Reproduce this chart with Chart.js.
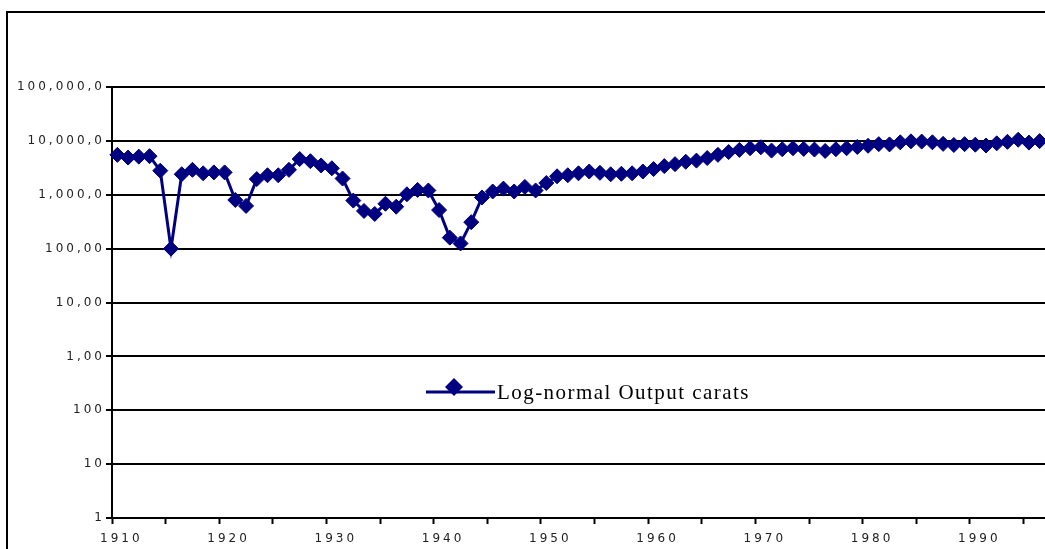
<!DOCTYPE html>
<html>
<head>
<meta charset="utf-8">
<script src="https://cdn.jsdelivr.net/npm/chart.js@4.4.1/dist/chart.umd.min.js"></script>
<style>
  html, body { margin: 0; padding: 0; background: #fff; }
  canvas { display: block; }
</style>
</head>
<body>
<canvas id="chart" width="1045" height="549"></canvas>
<script>
// years on the category axis, one point per year
const years = [];
for (let y = 1910; y <= 1996; y++) years.push(String(y));

// diamond output, carats
const carats = [
  5500000, 4900000, 5100000, 5200000, 2800000, 100000, 2400000, 2900000, 2500000, 2600000, // 1910-19
  2600000, 800000, 620000, 1950000, 2300000, 2300000, 2900000, 4600000, 4200000, 3500000,  // 1920-29
  3100000, 2000000, 780000, 500000, 440000, 680000, 600000, 1020000, 1230000, 1200000,      // 1930-39
  520000, 160000, 125000, 310000, 890000, 1150000, 1300000, 1150000, 1400000, 1200000,      // 1940-49
  1650000, 2200000, 2300000, 2500000, 2700000, 2550000, 2400000, 2450000, 2500000, 2700000, // 1950-59
  3000000, 3400000, 3700000, 4100000, 4300000, 4800000, 5500000, 6200000, 6800000, 7300000, // 1960-69
  7600000, 6600000, 7000000, 7300000, 7100000, 6900000, 6500000, 7000000, 7300000, 7700000, // 1970-79
  8100000, 8700000, 8600000, 9400000, 9800000, 9700000, 9400000, 8800000, 8400000, 8700000, // 1980-89
  8500000, 8200000, 9000000, 9600000, 10500000, 9300000, 9900000                             // 1990-96
];

// y tick labels as printed (truncated in the original), by power of ten
const yTickLabels = ['1', '10', '100', '1,00', '10,00', '100,00', '1,000,0', '10,000,0', '100,000,0'];

const seriesName = 'Log-normal Output carats';
const navy = '#000080';

function diamond(ctx, x, y, r) {
  ctx.beginPath();
  ctx.moveTo(x, y - r);
  ctx.lineTo(x + r, y);
  ctx.lineTo(x, y + r);
  ctx.lineTo(x - r, y);
  ctx.closePath();
  ctx.fill();
}

const frame = {
  id: 'frame',
  beforeDraw(chart) {
    const c = chart.ctx;
    c.save();
    c.fillStyle = '#fff';
    c.fillRect(0, 0, chart.width, chart.height);
    c.strokeStyle = '#000';
    c.lineWidth = 2;
    c.strokeRect(7, 12, chart.width + 10, chart.height + 10);
    c.restore();
    c.letterSpacing = '3px'; // wide tick text
  },
  beforeDatasetsDraw(chart) {
    chart.ctx.letterSpacing = '0px';
  },
  afterDraw(chart) {
    const c = chart.ctx;
    c.save();
    c.letterSpacing = '0px';
    c.strokeStyle = navy;
    c.lineWidth = 3;
    c.beginPath();
    c.moveTo(426, 392);
    c.lineTo(495, 392);
    c.stroke();
    c.fillStyle = navy;
    diamond(c, 454, 387, 9);
    c.fillStyle = '#000';
    c.font = '21px "Liberation Serif"';
    c.letterSpacing = '1.45px';
    c.textBaseline = 'alphabetic';
    c.fillText(seriesName, 497, 399);
    c.restore();
  }
};

new Chart(document.getElementById('chart'), {
  type: 'line',
  data: {
    labels: years,
    datasets: [{
      label: seriesName,
      data: carats,
      borderColor: navy,
      backgroundColor: navy,
      borderWidth: 3,
      pointStyle: 'rectRot',
      pointRadius: 7.5,
      pointBorderWidth: 1,
      pointBackgroundColor: navy,
      pointBorderColor: navy,
      tension: 0,
      clip: false,
    }],
  },
  options: {
    responsive: false,
    animation: false,
    devicePixelRatio: 1,
    layout: { autoPadding: false, padding: { top: 87, left: 0, right: 0, bottom: 0 } },
    plugins: {
      legend: { display: false },
      tooltip: { enabled: false },
    },
    scales: {
      x: {
        type: 'category',
        offset: true,
        afterFit: s => { s.height = 31; s.paddingLeft = 0; s.paddingRight = 0; },
        grid: {
          offset: true,
          drawOnChartArea: false,
          drawTicks: true,
          tickLength: 6,
          tickWidth: 2,
          tickColor: c => (c.index % 5 === 0 ? '#000' : 'rgba(0,0,0,0)'),
        },
        border: { color: '#000', width: 2 },
        ticks: {
          autoSkip: false,
          maxRotation: 0,
          padding: 8,
          labelOffset: 4,
          color: '#222',
          font: { family: '"DejaVu Sans"', size: 12 },
          callback: (v, i) => (i % 10 === 0 ? years[i] : ''),
        },
      },
      y: {
        type: 'logarithmic',
        min: 1,
        max: 100000000,
        afterFit: s => { s.width = 112; },
        afterBuildTicks: s => {
          s.ticks = yTickLabels.map((_, i) => ({ value: Math.pow(10, i) }));
        },
        grid: {
          color: '#000',
          lineWidth: 2,
          drawTicks: true,
          tickLength: 6,
        },
        border: { color: '#000', width: 2 },
        ticks: {
          padding: 1,
          color: '#222',
          font: { family: '"DejaVu Sans"', size: 12 },
          callback: v => yTickLabels[Math.round(Math.log10(v))],
        },
      },
    },
  },
  plugins: [frame],
});
</script>
</body>
</html>
